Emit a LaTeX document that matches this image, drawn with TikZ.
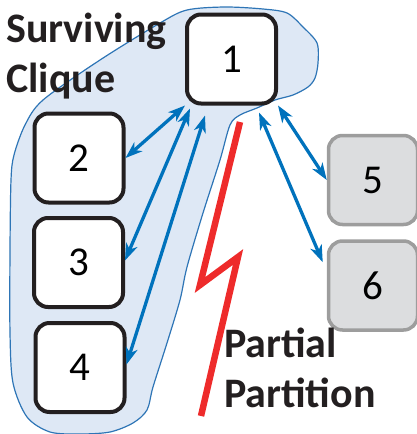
\documentclass[tikz,border=0pt]{standalone}
\usepackage{fontspec}
\setmainfont{Carlito}
\usetikzlibrary{arrows.meta}
\definecolor{blobfill}{RGB}{222,232,245}
\definecolor{blobline}{RGB}{46,117,182}
\definecolor{linkblue}{RGB}{0,114,188}
\definecolor{boltred}{RGB}{238,43,43}
\definecolor{boxline}{RGB}{35,31,32}
\definecolor{cutfill}{RGB}{220,221,223}
\definecolor{cutline}{RGB}{157,157,157}
\tikzset{
  member/.style={draw=boxline, line width=4pt, fill=white, rounded corners=14pt,
    minimum width=89pt, minimum height=89pt, inner sep=0pt,
    font=\fontsize{41}{41}\selectfont},
  cutoff/.style={member, draw=cutline, line width=3.5pt, fill=cutfill},
  link/.style={draw=linkblue, line width=3.3pt,
    {Stealth[length=17pt,width=12pt,inset=5pt]}-{Stealth[length=17pt,width=12pt,inset=5pt]}},
  bolt/.style={draw=boltred, line width=6.5pt, miter limit=10},
  blob/.style={draw=blobline, line width=1.2pt, fill=blobfill},
  caption/.style={font=\bfseries\fontsize{42}{50}\selectfont, align=left,
    inner sep=0pt, text=boxline}
}
\begin{document}
\begin{tikzpicture}[x=1pt, y=-1pt]
\useasboundingbox (0,0) rectangle (417,434);

% surviving clique region
\draw[blob] plot[smooth cycle, tension=0.5] coordinates {
  (187,10) (225,7) (263,9) (287,13) (303,27) (317,43) (318,63) (315,78)
  (308,87) (293,95) (275,100) (257,108) (240,115) (230,125) (220,160)
  (203,213) (187,267) (180,300) (167,343) (153,387) (147,410) (133,423)
  (110,432) (80,434) (50,432) (27,417) (13,383) (10,333) (10,250)
  (11,180) (14,155) (25,125) (43,100) (100,60) (160,23)};

% partition bolt
\coordinate (z0) at (240,122);
\coordinate (z1) at (200,285);
\coordinate (z2) at (238,257);
\coordinate (z3) at (201,416);
\draw[bolt] (z0) -- (z1) -- (z2) -- (z3);

% replicas
\node[member] (b1) at (231.5,59) {1};
\node[member] (b2) at (79,158) {2};
\node[member] (b3) at (78.5,262.5) {3};
\node[member] (b4) at (80,367.5) {4};
\node[cutoff] (b5) at (373,180) {5};
\node[cutoff] (b6) at (373,285.5) {6};

% links from replica 1
\draw[link] (b2.east) -- (b1.south west);
\draw[link] ([yshift=2pt]b3.east) -- ([xshift=5pt,yshift=-3pt]b1.south west);
\draw[link] ([yshift=3pt]b4.east) -- ([xshift=20pt,yshift=-10pt]b1.south west);
\draw[link] (b1.south east) -- (b5.west);
\draw[link] ([xshift=-19pt,yshift=-7pt]b1.south east) -- ([xshift=-4pt,yshift=-23pt]b6.north west);

% labels (base anchor sits on the last line)
\node[caption, anchor=base west] (lclique) at (6,92) {Surviving\\Clique};
\node[caption, anchor=base west] (lpart) at (224,407) {Partial\\Partition};
\end{tikzpicture}
\end{document}
